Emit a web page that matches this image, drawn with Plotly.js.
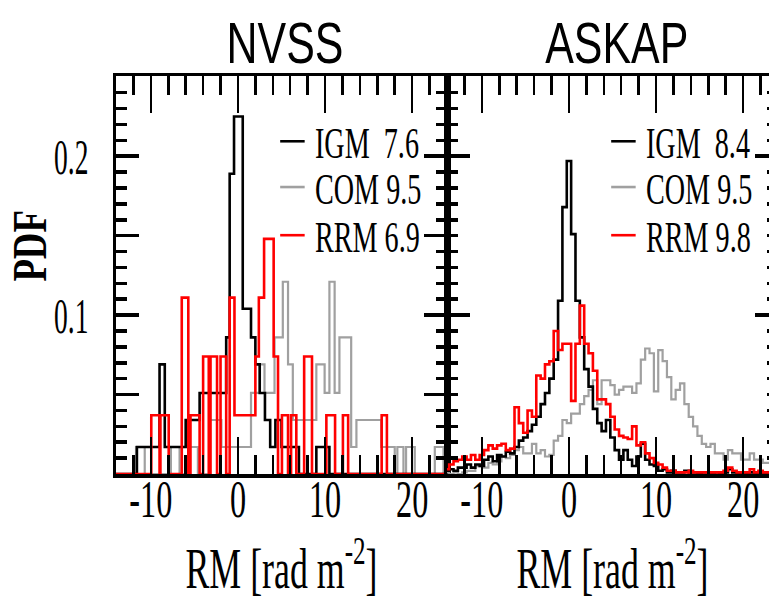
<!DOCTYPE html>
<html><head><meta charset="utf-8">
<script src="https://cdn.plot.ly/plotly-3.0.1.min.js"></script>
<style>html,body{margin:0;padding:0;overflow:hidden;background:#fff;width:769px;height:600px}#chart{width:790px;height:600px}</style>
</head><body><div id="chart"></div>
<script>
// ---------- data ----------
const panelTitles = ['NVSS', 'ASKAP'];
const seriesNames = ['IGM', 'COM', 'RRM'];
const nvssLegend = ['IGM\u00a0\u00a07.6', 'COM 9.5', 'RRM 6.9'];
const askapLegend = ['IGM\u00a0\u00a08.4', 'COM 9.5', 'RRM 9.8'];
const xTickVals = [-10, 0, 10, 20];
const xTickText = ['-10', '0', '10', '20'];
const yTickVals = [0.05, 0.1, 0.15, 0.2];
const yTickText = ['', '0.1', '', '0.2'];

// NVSS histograms (bin edges and PDF value per bin)
const nvssIGMEdges = [-14, -11.6, -9.0, -8.4, -6.0, -4.4, -1.35, -0.95, -0.45, 0.55, 1.5, 2.0, 2.5, 3.1, 3.7, 4.3, 5.0, 7.0, 9.0, 10.5, 24];
const nvssIGMVals  = [0, 0.017, 0.069, 0.017, 0.034, 0.051, 0.086, 0.189, 0.225, 0.104, 0.086, 0.069, 0.051, 0.034, 0.017, 0.034, 0.017, 0, 0.017, 0];
const nvssCOMEdges = [-14, -11.7, -10.7, -7.7, -6.7, -5.6, -4.6, -3.3, -1.9, 1.5, 2.5, 3.05, 4.2, 5.15, 5.75, 6.3, 9.0, 9.95, 10.5, 11.1, 11.65, 13.0, 13.6, 16.45, 18.0, 18.3, 19.0, 19.3, 20.3, 22.6, 23.6, 24];
const nvssCOMVals  = [0, 0.017, 0, 0.017, 0, 0.017, 0, 0.034, 0.017, 0.051, 0.069, 0.051, 0.086, 0.121, 0.069, 0.034, 0.069, 0.051, 0.121, 0.051, 0.086, 0.017, 0.034, 0.017, 0, 0.017, 0, 0.017, 0, 0.017, 0];
const nvssRRMEdges = [-14, -9.95, -9.0, -8.9, -7.95, -6.45, -5.7, -5.45, -4.4, -4.0, -3.35, -3.15, -2.4, -2.0, -1.35, -0.95, -0.4, 2.0, 2.4, 3.0, 4.1, 4.6, 5.05, 5.75, 6.1, 6.7, 7.6, 8.5, 10.15, 11.15, 12.05, 12.65, 16.5, 17.1, 24];
const nvssRRMVals  = [0, 0.037, 0, 0.037, 0, 0.111, 0, 0.037, 0, 0.074, 0, 0.074, 0, 0.074, 0, 0.111, 0.037, 0.074, 0.111, 0.148, 0.074, 0, 0.037, 0, 0.037, 0, 0.074, 0, 0.037, 0, 0.037, 0, 0.037, 0];

// ASKAP histograms: bins of width 0.5 centred from -14 to 24
const askapFirstCenter = -14, askapBinWidth = 0.5;
const askapIGM = [0.002,0.003,0.002,0.004,0.004,0.006,0.004,0.006,0.005,0.009,0.011,0.008,0.012,0.011,0.014,0.013,0.017,0.021,0.023,0.027,0.031,0.036,0.044,0.051,0.06,0.072,0.109,0.168,0.197,0.151,0.109,0.086,0.066,0.055,0.041,0.032,0.027,0.034,0.023,0.015,0.009,0.015,0.009,0.005,0.011,0.019,0.009,0.006,0.005,0.002,0.003,0.001,0.002,0.001,0.001,0.002,0.001,0.001,0,0.001,0.001,0,0.001,0,0.001,0.003,0.001,0,0.001,0,0.001,0,0.001,0,0,0,0];
const askapCOM = [0.001,0,0.001,0,0.001,0.002,0.002,0.005,0.005,0.004,0.007,0.006,0.008,0.011,0.01,0.012,0.015,0.017,0.013,0.013,0.019,0.013,0.015,0.011,0.012,0.021,0.024,0.034,0.032,0.038,0.038,0.044,0.049,0.053,0.059,0.044,0.059,0.059,0.056,0.05,0.053,0.055,0.055,0.051,0.057,0.072,0.079,0.076,0.052,0.078,0.071,0.061,0.047,0.053,0.057,0.044,0.036,0.03,0.024,0.019,0.017,0.019,0.013,0.013,0.009,0.015,0.013,0.013,0.009,0.009,0.013,0.009,0.009,0.007,0.007,0.007,0.005];
const askapRRM = [0.003,0.006,0.008,0.009,0.011,0.009,0.012,0.009,0.012,0.015,0.018,0.016,0.018,0.019,0.015,0.016,0.042,0.032,0.026,0.04,0.036,0.062,0.06,0.069,0.071,0.09,0.078,0.082,0.082,0.046,0.082,0.106,0.082,0.076,0.065,0.047,0.047,0.044,0.036,0.028,0.024,0.023,0.022,0.03,0.018,0.02,0.013,0.01,0.007,0.006,0.004,0.002,0.002,0.001,0.001,0.001,0.002,0.001,0.001,0.001,0.001,0.001,0.001,0.001,0.002,0.004,0.002,0.001,0.001,0.001,0.003,0.001,0.002,0.001,0.001,0.001,0.001];

// ---------- styles ----------
const colors = {IGM: '#000000', COM: '#a0a0a0', RRM: '#ff0000'};
const serif = 'Liberation Serif, Times New Roman, serif';
const sans = 'Liberation Sans, Arial, sans-serif';

function stepTrace(edges, vals, name, xa, ya) {
  const x = [edges[0]], y = [0];
  for (let i = 0; i < vals.length; i++) { x.push(edges[i]); y.push(vals[i]); }
  x.push(edges[edges.length - 1]); y.push(0);
  return {type: 'scatter', mode: 'lines', x, y, name, xaxis: xa, yaxis: ya,
          line: {shape: 'hv', color: colors[name], width: name === 'COM' ? 2.2 : 2.6},
          showlegend: false, hoverinfo: 'skip'};
}
function askapEdges(n) {
  const e = [];
  for (let i = 0; i <= n; i++) e.push(askapFirstCenter - askapBinWidth / 2 + i * askapBinWidth);
  return e;
}

const traces = [
  stepTrace(nvssCOMEdges, nvssCOMVals, 'COM', 'x', 'y'),
  stepTrace(nvssIGMEdges, nvssIGMVals, 'IGM', 'x', 'y'),
  stepTrace(nvssRRMEdges, nvssRRMVals, 'RRM', 'x', 'y'),
  stepTrace(askapEdges(askapCOM.length), askapCOM, 'COM', 'x2', 'y2'),
  stepTrace(askapEdges(askapIGM.length), askapIGM, 'IGM', 'x2', 'y2'),
  stepTrace(askapEdges(askapRRM.length), askapRRM, 'RRM', 'x2', 'y2')
];

function xAxis(domain, anchor) {
  return {domain, anchor, range: [-14, 24], showgrid: false, zeroline: false,
    showline: true, linewidth: 3.5, linecolor: '#000', mirror: 'allticks',
    ticks: 'inside', ticklen: 37, tickwidth: 2.5, tickcolor: '#000',
    tickmode: 'array', tickvals: xTickVals, ticktext: xTickText,
    ticklabelstandoff: -23,
    tickfont: {family: serif, size: 52, color: '#000'},
    minor: {tickmode: 'linear', tick0: 0, dtick: 2, ticks: 'inside', ticklen: 19, tickwidth: 2.5, tickcolor: '#000', showgrid: false},
    title: {text: 'RM [rad m<sup>-2</sup>]', font: {family: serif, size: 56, color: '#000'}, standoff: 43}};
}
function yAxis(anchor, showLabels) {
  return {domain: [0, 1], anchor, range: [0, 0.2505], showgrid: false, zeroline: false,
    showline: true, linewidth: 3.5, linecolor: '#000', mirror: 'allticks',
    ticks: 'inside', ticklen: 23, tickwidth: 3.5, tickcolor: '#000',
    tickmode: 'array', tickvals: yTickVals, ticktext: yTickText,
    showticklabels: showLabels, ticklabelstandoff: 14,
    tickfont: {family: serif, size: 50, color: '#000'},
    minor: {tickmode: 'linear', tick0: 0, dtick: 0.01, ticks: 'inside', ticklen: 11, tickwidth: 3.5, tickcolor: '#000', showgrid: false}};
}

const annotations = [];
const shapes = [];
const legendRowsY = [0.831, 0.716, 0.595];
[['x', 'y', nvssLegend, 0], ['x2', 'y2', askapLegend, 1]].forEach(([xa, ya, labels, p]) => {
  annotations.push({xref: xa + ' domain', yref: 'paper', x: 0.512, y: 1.083, xanchor: 'center', yanchor: 'middle',
    text: panelTitles[p], showarrow: false, font: {family: sans, size: 58, color: '#000'}});
  labels.forEach((t, i) => {
    annotations.push({xref: xa + ' domain', yref: ya + ' domain', x: 0.596, y: legendRowsY[i], xanchor: 'left', yanchor: 'middle',
      text: t, showarrow: false, align: 'left', font: {family: serif, size: 44, color: '#000'}});
    shapes.push({type: 'line', xref: xa + ' domain', yref: ya + ' domain', x0: 0.496, x1: 0.570, y0: legendRowsY[i] + 0.005, y1: legendRowsY[i] + 0.005,
      line: {color: colors[seriesNames[i]], width: 2.6}});
  });
});
annotations.push({xref: 'paper', yref: 'paper', x: -0.13, y: 0.574, xanchor: 'center', yanchor: 'middle', textangle: -90,
  text: '<b>PDF</b>', showarrow: false, font: {family: serif, size: 49, color: '#000'}});

const layout = {
  width: 790, height: 600,
  margin: {l: 116, r: 12, t: 76, b: 126},
  paper_bgcolor: '#fff', plot_bgcolor: '#fff',
  font: {family: serif, color: '#000'},
  showlegend: false,
  xaxis: xAxis([0, 0.5], 'y'),
  xaxis2: xAxis([0.5, 1], 'y2'),
  yaxis: yAxis('x', true),
  yaxis2: Object.assign(yAxis('x2', false), {matches: 'y'}),
  annotations, shapes
};

function squeeze(el, s) {
  const r = el.getBoundingClientRect();
  if (!r.width) return;
  const tr = el.getAttribute('transform') || '';
  const anchor = el.getAttribute('text-anchor') || el.style.textAnchor || 'middle';
  let ax = r.left + r.width / 2;
  if (tr.indexOf('rotate') < 0) {
    if (anchor === 'start') ax = r.left; else if (anchor === 'end') ax = r.right;
  }
  const ay = r.top + r.height / 2;
  const svg = el.ownerSVGElement;
  const pt = svg.createSVGPoint(); pt.x = ax; pt.y = ay;
  const p = pt.matrixTransform(el.parentNode.getScreenCTM().inverse());
  el.setAttribute('transform', `translate(${p.x},${p.y}) scale(${s},1) translate(${-p.x},${-p.y}) ${tr}`);
}

Plotly.newPlot('chart', traces, layout, {staticPlot: true, displayModeBar: false}).then(gd => {
  // drop the blank labels of the unlabelled major ticks
  gd.querySelectorAll('.ytick text, .y2tick text').forEach(el => { if (!el.textContent.trim()) el.remove(); });
  gd.querySelectorAll('.xtick text, .x2tick text').forEach(el => squeeze(el, 0.62));
  gd.querySelectorAll('.ytick text').forEach(el => squeeze(el, 0.55));
  gd.querySelectorAll('.g-xtitle text, .g-x2title text').forEach(el => squeeze(el, 0.64));
  gd.querySelectorAll('.annotation-text').forEach(el => {
    const t = el.textContent;
    let s = 0.64;
    if (t === 'NVSS' || t === 'ASKAP') s = 0.74;
    else if (t === 'PDF') s = 0.75;
    squeeze(el, s);
  });
});
</script></body></html>
